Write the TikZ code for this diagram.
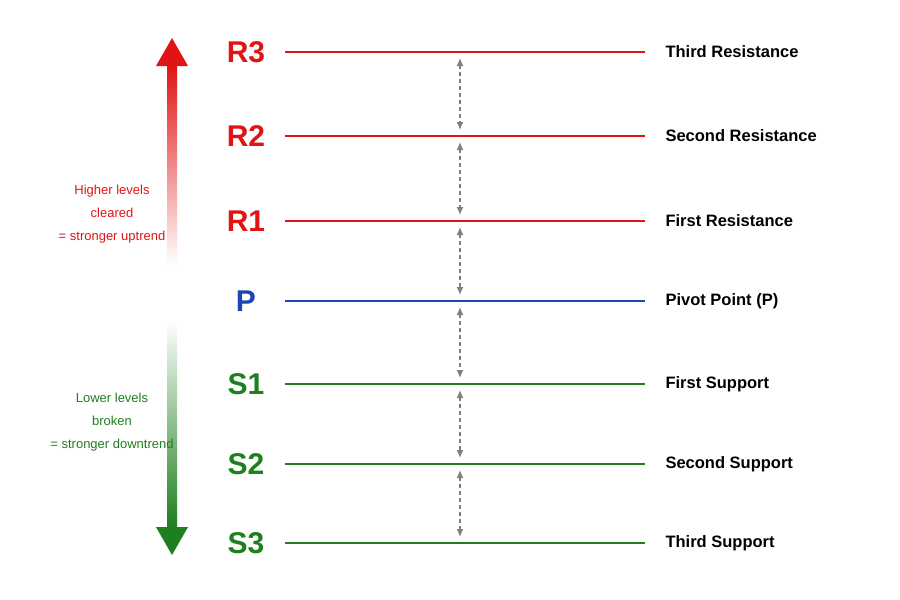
\documentclass[tikz,border=0pt]{standalone}
\usepackage{fontspec}
\setmainfont{Liberation Sans}
\usetikzlibrary{arrows.meta}
\definecolor{resred}{HTML}{E01414}
\definecolor{supgreen}{HTML}{1E7F1E}
\definecolor{pivblue}{HTML}{1F45B5}
\tikzset{
  level/.style = {line width=2pt},
  tag/.style = {font=\bfseries\fontsize{30}{30}\selectfont, anchor=center},
  levelname/.style = {font=\fontsize{16.5}{18}\selectfont\bfseries, anchor=west},
  gap/.style = {dash pattern=on 4pt off 3pt, gray, line width=1.3pt, {Latex[length=8pt,width=7pt]}-{Latex[length=8pt,width=7pt]}, shorten <=6pt, shorten >=6pt},
  note/.style = {font=\fontsize{13}{23}\selectfont, align=center}
}
\begin{document}
\begin{tikzpicture}[x=1pt,y=-1pt]
    \useasboundingbox (0,0) rectangle (900,600);

    % levels
    \foreach \lev/\yy/\col/\txt in {R3/52/resred/Third Resistance, R2/136/resred/Second Resistance,
        R1/221/resred/First Resistance, P/301/pivblue/Pivot Point (P), S1/384/supgreen/First Support,
        S2/464/supgreen/Second Support, S3/543/supgreen/Third Support}{
        \draw [level, \col] (285,\yy) -- (645,\yy);
        \coordinate (m\lev) at (460,\yy);
        \node [tag, text=\col] (t\lev) at (246,\yy) {\lev};
        \node [levelname] (n\lev) at (662,\yy) {\txt};
    }

    % spacing arrows
    \foreach \a/\b in {R3/R2, R2/R1, R1/P, P/S1, S1/S2, S2/S3}
        \draw [gap] (m\a) -- (m\b);

    % trend arrows
    \shade [top color=resred, bottom color=white] (167,66) rectangle (177,265);
    \fill [resred] (156,66) -- (172,38) -- (188,66) -- cycle;
    \shade [top color=white, bottom color=supgreen] (167,320) rectangle (177,527);
    \fill [supgreen] (156,527) -- (172,555) -- (188,527) -- cycle;

    \node [note, text=resred] (up) at (112,214) {Higher levels\\cleared\\= stronger uptrend};
    \node [note, text=supgreen] (down) at (112,422) {Lower levels\\broken\\= stronger downtrend};
\end{tikzpicture}
\end{document}
